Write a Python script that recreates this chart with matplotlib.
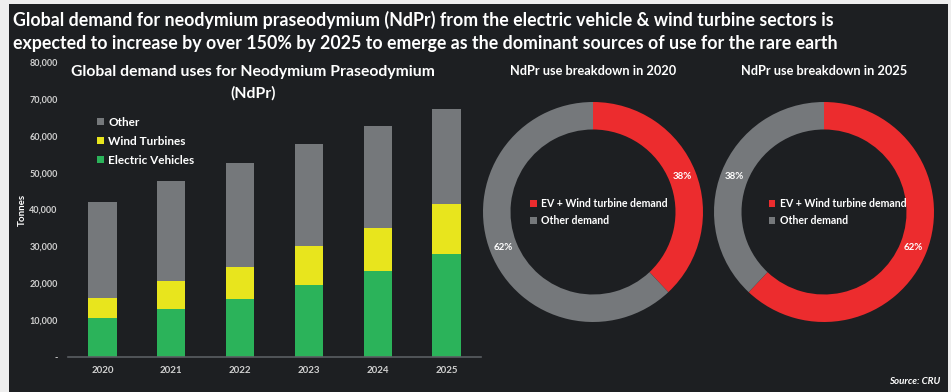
import matplotlib.pyplot as plt
from matplotlib.patches import Rectangle

plt.rcParams['font.family'] = ['Lato', 'DejaVu Sans']

# NdPr demand by sector, tonnes
years = ['2020', '2021', '2022', '2023', '2024', '2025']
electric_vehicles = [10700, 13000, 15700, 19500, 23200, 28000]
wind_turbines = [5300, 7500, 8800, 10600, 11700, 13400]
other = [26100, 27300, 28200, 27700, 27800, 25900]

# share of total demand in the two donut years
donut_labels = ['EV + Wind turbine demand', 'Other demand']
share_2020 = [38, 62]
share_2025 = [62, 38]

BG = '#1d1f22'
GREEN = '#2bb35a'
YELLOW = '#e8e51d'
GREY = '#75787b'
RED = '#ec2c2e'
TXT = '#ffffff'
TICK = '#d0d0d0'

fig = plt.figure(figsize=(9.51, 3.92), dpi=100, facecolor='#eeeeee')
fig.patches.append(Rectangle((9 / 951, 0), 939 / 951, 388 / 392,
                             transform=fig.transFigure, facecolor=BG,
                             edgecolor='none', zorder=-10))

fig.text(13 / 951, 1 - 20 / 392,
         'Global demand for neodymium praseodymium (NdPr) from the electric vehicle & wind turbine sectors is',
         color=TXT, fontsize=12.8, fontweight='bold', va='center', ha='left')
fig.text(13 / 951, 1 - 43 / 392,
         'expected to increase by over 150% by 2025 to emerge as the dominant sources of use for the rare earth',
         color=TXT, fontsize=12.8, fontweight='bold', va='center', ha='left')

# stacked bars
ax = fig.add_axes([68 / 951, 1 - 357 / 392, 413 / 951, 295 / 392])
ax.set_facecolor('none')
x = range(len(years))
ev_wind = [e + w for e, w in zip(electric_vehicles, wind_turbines)]
ax.bar(x, electric_vehicles, width=0.41, color=GREEN, label='Electric Vehicles')
ax.bar(x, wind_turbines, width=0.41, bottom=electric_vehicles, color=YELLOW, label='Wind Turbines')
ax.bar(x, other, width=0.41, bottom=ev_wind, color=GREY, label='Other')
ax.set_xlim(-0.5, 5.5)
ax.set_ylim(0, 80000)
ax.set_xticks(list(x))
ax.set_xticklabels(years, color=TICK, fontsize=7, fontweight='bold')
yt = list(range(0, 80001, 10000))
ax.set_yticks(yt)
ax.set_yticklabels(['-'] + [f'{v:,}' for v in yt[1:]], color=TICK, fontsize=6.5, fontweight='bold')
ax.tick_params(axis='x', length=0, pad=6.5)
ax.tick_params(axis='y', length=0, pad=7.5)
for s in ['top', 'right', 'left']:
    ax.spines[s].set_visible(False)
ax.spines['bottom'].set_color('#5a5e62')
ax.spines['bottom'].set_linewidth(1.2)
ax.set_ylabel('Tonnes', color=TXT, fontsize=7, fontweight='bold')
ax.yaxis.set_label_coords(-0.1, 0.5)

h, l = ax.get_legend_handles_labels()
leg = ax.legend(h[::-1], l[::-1], loc='upper left', bbox_to_anchor=(0.07, 0.815),
                frameon=False, labelcolor=TXT, handlelength=0.6,
                handleheight=0.6, handletextpad=0.35, labelspacing=0.68,
                borderpad=0, borderaxespad=0,
                prop={'weight': 'bold', 'size': 8.5})

fig.text(253 / 951, 1 - 72 / 392, 'Global demand uses for Neodymium Praseodymium',
         color=TXT, fontsize=11.3, fontweight='bold', ha='center', va='center')
fig.text(253 / 951, 1 - 93 / 392, '(NdPr)',
         color=TXT, fontsize=11.3, fontweight='bold', ha='center', va='center')


def donut(cx, share, year, legend_x):
    r = 110
    dax = fig.add_axes([(cx - r) / 951, 1 - (212 + r) / 392, 2 * r / 951, 2 * r / 392])
    dax.pie(share, colors=[RED, GREY], startangle=90, counterclock=False,
            radius=1, wedgeprops={'width': 0.25, 'edgecolor': 'none'},
            autopct='%d%%', pctdistance=0.875,
            textprops={'color': TXT, 'fontsize': 7, 'fontweight': 'bold'})
    dax.set_xlim(-1, 1)
    dax.set_ylim(-1, 1)
    dax.legend(donut_labels, loc='center left', bbox_to_anchor=(legend_x, 0.5),
               frameon=False, labelcolor=TXT, handlelength=0.6, handleheight=0.6,
               handletextpad=0.4, labelspacing=0.55, borderpad=0, borderaxespad=0,
               prop={'weight': 'bold', 'size': 7.6})
    fig.text(cx / 951, 1 - 71 / 392, f'NdPr use breakdown in {year}',
             color=TXT, fontsize=9.2, fontweight='bold', ha='center', va='center')


donut(593, share_2020, 2020, 0.215)
donut(824, share_2025, 2025, 0.25)

fig.text(940 / 951, 1 - 381 / 392, 'Source: CRU', color=TXT, fontsize=7,
         fontweight='bold', style='italic', ha='right', va='center')

fig.savefig('out.png', dpi=100, facecolor=fig.get_facecolor())
